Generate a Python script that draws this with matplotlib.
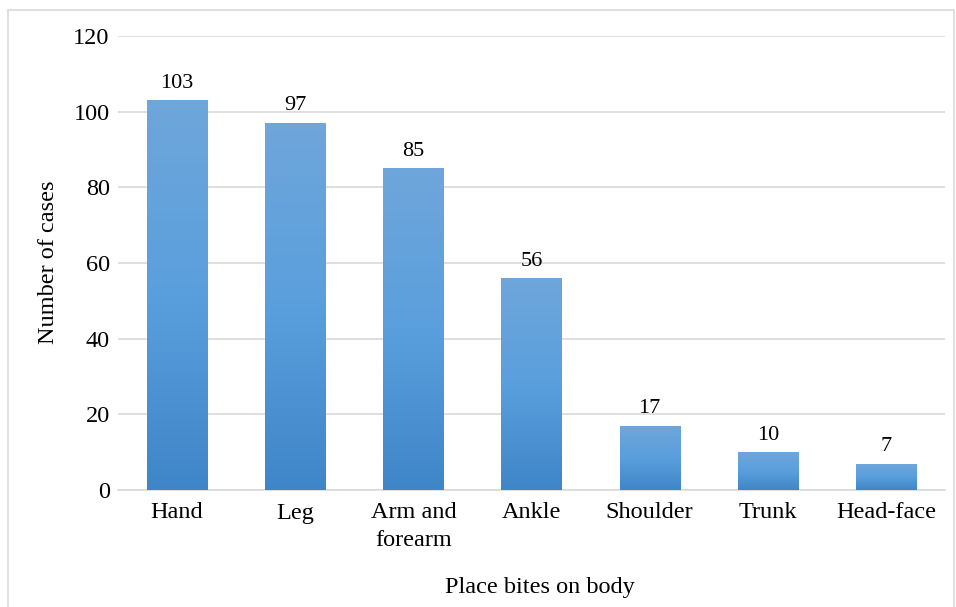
import numpy as np
import matplotlib
matplotlib.use("Agg")
import matplotlib.pyplot as plt
from matplotlib.patches import Rectangle
from matplotlib.colors import LinearSegmentedColormap

# data
places = ["Hand", "Leg", "Arm and\nforearm", "Ankle", "Shoulder", "Trunk", "Head-face"]
cases = [103, 97, 85, 56, 17, 10, 7]

plt.rcParams['font.family'] = ['Liberation Serif', 'DejaVu Serif']

fig = plt.figure(figsize=(9.56, 6.07), dpi=100)
ax = fig.add_axes([118/956, 1-490/607, (945-118)/956, (490-36)/607])

# outer frame
fig.patches.append(Rectangle((8/956, -0.01), 946/956, 1-10/607+0.01, transform=fig.transFigure,
                             fill=False, edgecolor="#D9D9D9", linewidth=1.2))

x = np.arange(len(places))
width = 0.51
bars = ax.bar(x, cases, width=width, color="none", edgecolor="none", zorder=3)

# vertical gradient for each bar (lighter top, darker bottom)
cmap = LinearSegmentedColormap.from_list("blu", ["#3F86C8", "#5A9FDD", "#6FA6DA"])
grad = np.linspace(0, 1, 256).reshape(-1, 1)
for b in bars:
    x0, y0 = b.get_x(), b.get_y()
    w, h = b.get_width(), b.get_height()
    im = ax.imshow(grad, cmap=cmap, origin="lower", aspect="auto",
                   extent=[x0, x0 + w, y0, y0 + h], zorder=3)
    im.set_clip_path(b)
    ax.text(x0 + w / 2, h + 2.0, str(int(h)), ha="center", va="bottom", fontsize=16)

ax.set_xlim(-0.5, len(places) - 0.5)
ax.set_ylim(0, 120)
ax.set_yticks(np.arange(0, 121, 20))
ax.yaxis.grid(True, color="#D9D9D9", linewidth=1.2, zorder=0)
ax.set_axisbelow(True)
for s in ["top", "right", "left"]:
    ax.spines[s].set_visible(False)
ax.spines["bottom"].set_color("#D9D9D9")
ax.spines["bottom"].set_linewidth(1.2)
ax.tick_params(length=0, labelsize=17.5, pad=6)
ax.set_xticks(x)
ax.set_xticklabels(places, linespacing=1.4)
ax.tick_params(axis="x", pad=9)

fig.text(49/956, 1-262/607, "Number of cases", rotation=90, ha="center", va="center", fontsize=17.5)
fig.text(540/956, 1-587/607, "Place bites on body", ha="center", va="center", fontsize=17.5)

fig.savefig("out.png", dpi=100)
